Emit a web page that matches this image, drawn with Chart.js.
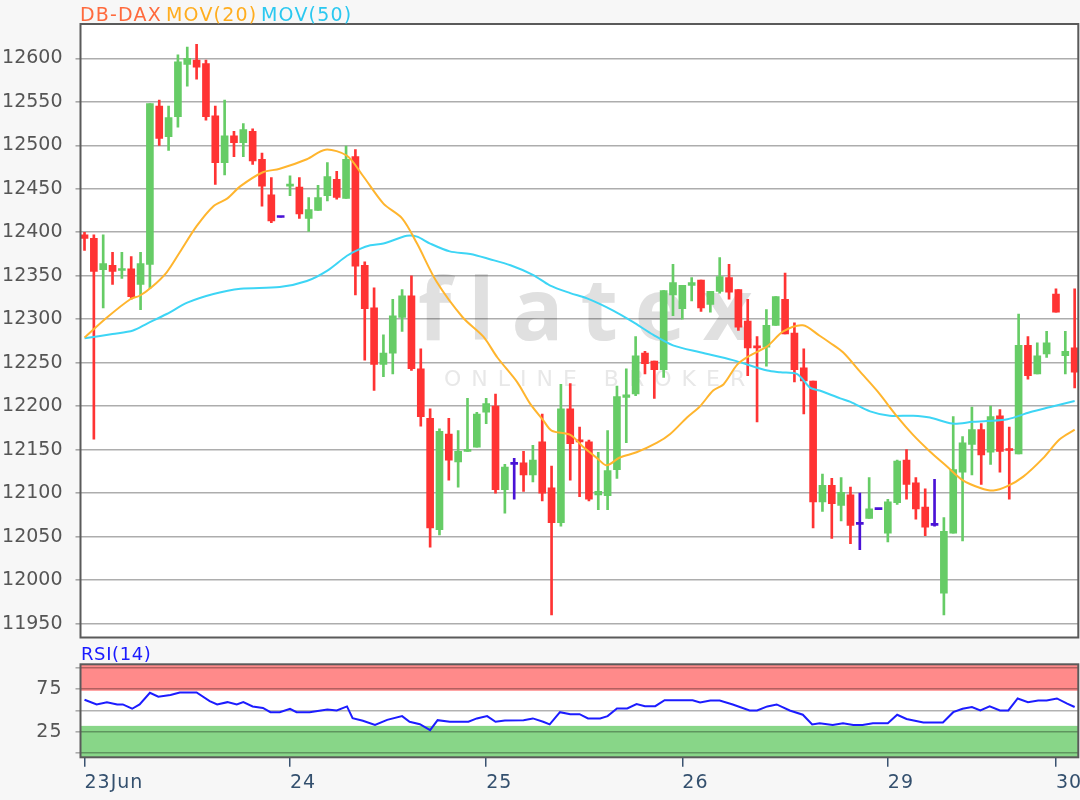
<!DOCTYPE html>
<html>
<head>
<meta charset="utf-8">
<script src="https://cdn.jsdelivr.net/npm/chart.js@4.4.1/dist/chart.umd.min.js"></script>
<style>
  body { margin: 0; background: #f7f7f7; width: 1080px; height: 800px; overflow: hidden; }
  #priceChart { position: absolute; left: 0; top: 0; }
  #rsiChart { position: absolute; left: 0; top: 640px; }
</style>
</head>
<body>
<canvas id="priceChart" width="1080" height="640"></canvas>
<canvas id="rsiChart" width="1080" height="160"></canvas>
<script>
// hourly candles, DB-DAX, 23 Jun - 30 Jun
const opens = [12397,12393,12357,12362,12356,12358,12340,12363,12545,12510,
  12533,12593,12598,12594,12534,12480,12511,12503,12516,12484,
  12443,12417,12453,12452,12416,12425,12442,12461,12439,12487,
  12362,12313,12248,12261,12302,12327,12243,12186,12058,12168,
  12136,12148,12153,12193,12200,12104,12133,12135,12121,12159,
  12106,12066,12197,12161,12159,12098,12097,12127,12210,12214,
  12261,12252,12242,12328,12312,12339,12345,12317,12332,12348,
  12334,12298,12268,12268,12293,12323,12284,12244,12229,12090,
  12109,12086,12098,12064,12071,12081,12054,12089,12138,12112,
  12084,12063,11985,12054,12124,12156,12173,12147,12189,12150,
  12145,12270,12237,12260,12329,12258,12267];
const highs = [12400,12397,12397,12377,12377,12372,12377,12548,12552,12545,
  12604,12613,12616,12598,12545,12552,12516,12525,12519,12491,
  12463,12417,12465,12463,12440,12454,12480,12470,12499,12495,
  12366,12336,12282,12323,12334,12350,12266,12197,12174,12186,
  12172,12209,12193,12209,12214,12133,12140,12148,12155,12191,
  12131,12225,12226,12176,12161,12147,12172,12223,12243,12280,
  12263,12252,12333,12363,12339,12348,12345,12332,12371,12363,
  12334,12323,12280,12311,12326,12353,12296,12266,12229,12122,
  12117,12118,12107,12100,12118,12081,12093,12138,12150,12118,
  12105,12116,12072,12188,12165,12199,12180,12200,12196,12176,
  12306,12280,12273,12286,12335,12286,12335];
const lows = [12379,12162,12313,12340,12347,12323,12311,12335,12500,12494,
  12521,12568,12576,12529,12455,12466,12487,12487,12478,12430,
  12411,12417,12442,12416,12401,12425,12436,12438,12439,12328,
  12253,12218,12234,12237,12286,12241,12177,12038,12052,12115,
  12107,12148,12153,12180,12100,12077,12093,12102,12113,12091,
  11960,12062,12115,12096,12091,12081,12081,12117,12158,12212,
  12237,12209,12233,12304,12300,12321,12309,12308,12330,12323,
  12287,12235,12182,12246,12293,12283,12228,12191,12060,12079,
  12048,12068,12042,12035,12071,12081,12044,12087,12093,12070,
  12051,12062,11960,12054,12045,12121,12110,12133,12124,12093,
  12145,12231,12237,12256,12308,12237,12221];
const closes = [12393,12355,12364,12355,12358,12326,12364,12548,12508,12532,
  12596,12600,12590,12533,12480,12511,12503,12518,12482,12453,
  12413,12417,12455,12421,12426,12440,12464,12440,12484,12361,
  12312,12248,12261,12304,12327,12243,12188,12060,12171,12138,
  12148,12150,12191,12203,12104,12130,12133,12121,12138,12100,
  12066,12197,12157,12159,12093,12102,12126,12211,12213,12258,
  12249,12242,12333,12342,12339,12342,12313,12332,12349,12331,
  12291,12267,12267,12293,12326,12283,12242,12229,12090,12109,
  12088,12101,12063,12064,12082,12081,12090,12137,12110,12082,
  12061,12063,12056,12127,12158,12173,12144,12188,12148,12149,
  12270,12235,12258,12273,12308,12263,12239];

// moving averages, read at candle positions
const ma20At = [0,2.4,4.9,5.9,7.2,8.8,10.2,12,13.8,15.3,16.7,19.1,20.9,23.8,25.8,28.1,29.8,32,34,35.6,
  37.7,40.5,42.7,44.2,46.3,47.7,49.1,50,52,53.4,54.9,55.9,57.3,59.1,61.3,62.7,64.5,65.9,67.3,68.4,
  69.9,71.2,73.1,74.8,76.9,78.7,79.8,81.2,83,84.9,87,88.7,90.5,92.3,94,95.9,97.3,98.8,100.5,102.6,104.4,106];
const ma20Val = [12279,12302,12323,12327,12337,12354,12377,12407,12430,12439,12453,12469,12473,12484,12495,12488,12465,12433,12416,12387,
  12343,12302,12280,12256,12228,12203,12184,12172,12167,12153,12140,12132,12141,12147,12158,12168,12187,12200,12218,12225,
  12248,12258,12269,12286,12293,12281,12273,12262,12240,12217,12188,12167,12148,12131,12115,12106,12103,12108,12119,12140,12162,12173];
const ma50At = [0,3,5.2,6.7,8.8,11,13.8,16.7,20.9,23.8,26,28.1,29.5,30.6,32,34.5,35.6,37,39.1,41.3,
  43.4,45.6,48,49.8,52,53.8,56.6,58.7,60.9,63,65.9,69.4,73.1,74.5,76.3,77.7,78.7,80.9,82,84.1,
  86.2,88.7,90.5,92.9,95.1,96.6,98.8,101.2,103.4,106];
const ma50Val = [12278,12283,12287,12295,12306,12319,12329,12335,12337,12344,12356,12373,12381,12385,12387,12396,12395,12387,12378,12375,
  12369,12362,12351,12339,12330,12324,12310,12297,12282,12270,12262,12253,12241,12239,12237,12221,12218,12209,12205,12194,
  12189,12189,12187,12180,12182,12183,12185,12193,12199,12206];

// RSI(14)
const rsiAt = [0,1.3,2.4,3.5,4.1,5.1,5.9,7,7.9,9.2,10.2,12,13.4,14.2,15.3,16.3,17,18,19.1,19.9,
  20.9,22,22.7,24.1,26,27,28.1,28.7,29.8,31.1,32.4,34,34.8,35.9,37,37.8,39.1,41.1,42,43.1,
  44,45,47,48,49.1,49.8,50.9,52,53,53.9,55.2,56,57,58.1,59.1,60,61.1,62.1,63.8,65.1,
  65.9,67,68,69.4,71.2,72,73.1,74.1,75.5,76.9,77.9,78.7,80.1,81.2,82.3,83.3,84.4,86,87,88,
  89.8,91.9,93,94,95,95.9,96.9,98,98.9,99.9,101,102.1,103,104.1,105.2,106];
const rsiVal = [62.5,57,59.7,57,57,52,57,70.6,66,68,71,71,61,57,59.7,57,59.7,54.7,53,48,
  48,52,48,48,51,50,54.7,41,38,33,39,43.4,36.8,34,27,38.7,36.8,36.8,40.7,43.4,
  36.8,38.3,38.7,40.7,36.8,33.7,48,45.7,45.7,40.7,40.7,43.4,52.3,52.3,57.4,55,55,62,62,62,
  59.3,61.7,61.7,57,50,50,54.7,57,50,45,33.7,35,33,35,33,33,35,35,45,40,
  36,36,48,52,54,50,54.7,50,50,64,59.7,61.7,61.7,64,58,54];

// axes
const dayTickIndex = [0, 22, 43, 64, 86, 104];
const dayTickLabels = ['23Jun', '24', '25', '26', '29', '30'];
const priceTicks = [11950,12000,12050,12100,12150,12200,12250,12300,12350,12400,12450,12500,12550,12600];
const rsiGrid = [0, 25, 50, 75, 100];
const rsiLabels = [25, 75];

const X_MIN = -0.43, X_MAX = 106.39;
const UP = '#66cc66', DOWN = '#ff3333', FLAT = '#4a12d6';
const FONT = 'DejaVu Sans';

const idx = closes.map((c, i) => i);
const candleColors = idx.map(i => closes[i] > opens[i] ? UP : (closes[i] < opens[i] ? DOWN : FLAT));

function drawFrame(chart) {
  const {ctx, chartArea: a} = chart;
  ctx.save();
  ctx.strokeStyle = '#5a5a5a';
  ctx.lineWidth = 2;
  ctx.strokeRect(a.left, a.top, a.right - a.left, a.bottom - a.top);
  ctx.restore();
}

// keep the plot box where it is: no automatic room for the outer labels
function fixWidth(s) {
  s.width = 80.5;
  s.paddingTop = 0; s.paddingBottom = 0;
}

const priceDecor = {
  id: 'priceDecor',
  beforeDraw(chart) {
    const {ctx, chartArea: a} = chart;
    ctx.save();
    ctx.fillStyle = '#ffffff';
    ctx.fillRect(a.left, a.top, a.right - a.left, a.bottom - a.top);
    // watermark
    ctx.fillStyle = '#e0e0e0';
    ctx.font = '700 86px "Open Sans"';
    ctx.letterSpacing = '17px';
    ctx.fillText('flatex', 418, 340);
    ctx.fillStyle = '#e8e8e8';
    ctx.font = '22px "' + FONT + '"';
    ctx.letterSpacing = '10px';
    ctx.fillText('ONLINE BROKER', 444, 386);
    ctx.restore();
  },
  afterDraw(chart) {
    drawFrame(chart);
    const ctx = chart.ctx;
    ctx.save();
    ctx.font = '19px "' + FONT + '"';
    ctx.letterSpacing = '1.2px';
    ctx.fillStyle = '#ff6a3d';
    ctx.fillText('DB-DAX', 80, 20.5);
    ctx.fillStyle = '#ffad1f';
    ctx.fillText('MOV(20)', 166, 20.5);
    ctx.fillStyle = '#2bc8f0';
    ctx.fillText('MOV(50)', 261, 20.5);
    ctx.restore();
  }
};

const rsiDecor = {
  id: 'rsiDecor',
  beforeDraw(chart) {
    const {ctx, chartArea: a, scales: {y}} = chart;
    ctx.save();
    ctx.fillStyle = '#ffffff';
    ctx.fillRect(a.left, a.top, a.right - a.left, a.bottom - a.top);
    const hi = y.getPixelForValue(73), lo = y.getPixelForValue(32);
    ctx.fillStyle = '#ff8a8a';
    ctx.fillRect(a.left, a.top, a.right - a.left, hi - a.top);
    ctx.fillStyle = '#88d688';
    ctx.fillRect(a.left, lo, a.right - a.left, a.bottom - lo);
    ctx.restore();
    // date labels are a little wider in the original
    ctx.letterSpacing = '1px';
  },
  afterDraw(chart) {
    drawFrame(chart);
    const ctx = chart.ctx;
    ctx.save();
    ctx.font = '18px "' + FONT + '"';
    ctx.letterSpacing = '0.6px';
    ctx.fillStyle = '#1a1aff';
    ctx.fillText('RSI(14)', 81, 20);
    ctx.restore();
  }
};

new Chart(document.getElementById('priceChart'), {
  type: 'bar',
  data: {
    datasets: [
      {
        type: 'line', label: 'MOV(20)', order: 0,
        data: ma20At.map((x, i) => ({x: x, y: ma20Val[i]})),
        borderColor: '#ffb52e', borderWidth: 2, pointRadius: 0, tension: 0.3, fill: false
      },
      {
        type: 'line', label: 'MOV(50)', order: 0,
        data: ma50At.map((x, i) => ({x: x, y: ma50Val[i]})),
        borderColor: '#3dd5f5', borderWidth: 2, pointRadius: 0, tension: 0.3, fill: false
      },
      {
        label: 'body', order: 1, grouped: false,
        data: idx.map(i => ({x: i, y: [Math.min(opens[i], closes[i]), Math.max(opens[i], closes[i])]})),
        backgroundColor: candleColors, barThickness: 7, minBarLength: 2, borderWidth: 0
      },
      {
        label: 'wick', order: 2, grouped: false,
        data: idx.map(i => ({x: i, y: [lows[i], highs[i]]})),
        backgroundColor: candleColors, barThickness: 2, borderWidth: 0
      }
    ]
  },
  options: {
    responsive: false,
    animation: false,
    devicePixelRatio: 1,
    layout: { autoPadding: false, padding: { top: 24, right: 1.7, bottom: 2.5, left: 0 } },
    plugins: { legend: { display: false }, tooltip: { enabled: false } },
    scales: {
      x: { type: 'linear', min: X_MIN, max: X_MAX, offset: false, display: false },
      y: {
        type: 'linear', min: 11934, max: 12639.5,
        afterBuildTicks: s => { s.ticks = priceTicks.map(v => ({value: v})); },
        afterFit: fixWidth,
        border: { display: false },
        grid: { color: 'rgba(0,0,0,0.32)', lineWidth: 1.6, tickLength: 5 },
        ticks: { callback: v => String(v), color: '#555', font: { family: FONT, size: 19 }, padding: 13, autoSkip: false }
      }
    }
  },
  plugins: [priceDecor]
});

new Chart(document.getElementById('rsiChart'), {
  type: 'line',
  data: {
    datasets: [{
      label: 'RSI(14)',
      data: rsiAt.map((x, i) => ({x: x, y: rsiVal[i]})),
      borderColor: '#1c1cff', borderWidth: 2, pointRadius: 0, tension: 0, fill: false
    }]
  },
  options: {
    responsive: false,
    animation: false,
    devicePixelRatio: 1,
    layout: { autoPadding: false, padding: { top: 24.3, right: 1.7, bottom: 0, left: 0 } },
    plugins: { legend: { display: false }, tooltip: { enabled: false } },
    scales: {
      x: {
        type: 'linear', min: X_MIN, max: X_MAX, offset: false,
        afterBuildTicks: s => { s.ticks = dayTickIndex.map(v => ({value: v})); },
        afterFit: s => { s.height = 42.7; s.paddingLeft = 0; s.paddingRight = 0; },
        border: { display: false },
        grid: { drawOnChartArea: false, drawTicks: true, tickLength: 9.5, color: '#3a5370', lineWidth: 1.5 },
        ticks: {
          callback: v => dayTickLabels[dayTickIndex.indexOf(v)],
          align: 'start', color: '#34506e', font: { family: FONT, size: 19 },
          padding: 5, maxRotation: 0, autoSkip: false
        }
      },
      y: {
        type: 'linear', min: -4.7, max: 103.9,
        afterBuildTicks: s => { s.ticks = rsiGrid.map(v => ({value: v})); },
        afterFit: fixWidth,
        border: { display: false },
        grid: { color: 'rgba(0,0,0,0.3)', lineWidth: 1.6, tickLength: 5 },
        ticks: {
          callback: v => rsiLabels.includes(v) ? String(v) : '',
          color: '#555', font: { family: FONT, size: 19 }, padding: 13, autoSkip: false
        }
      }
    }
  },
  plugins: [rsiDecor]
});
</script>
</body>
</html>
